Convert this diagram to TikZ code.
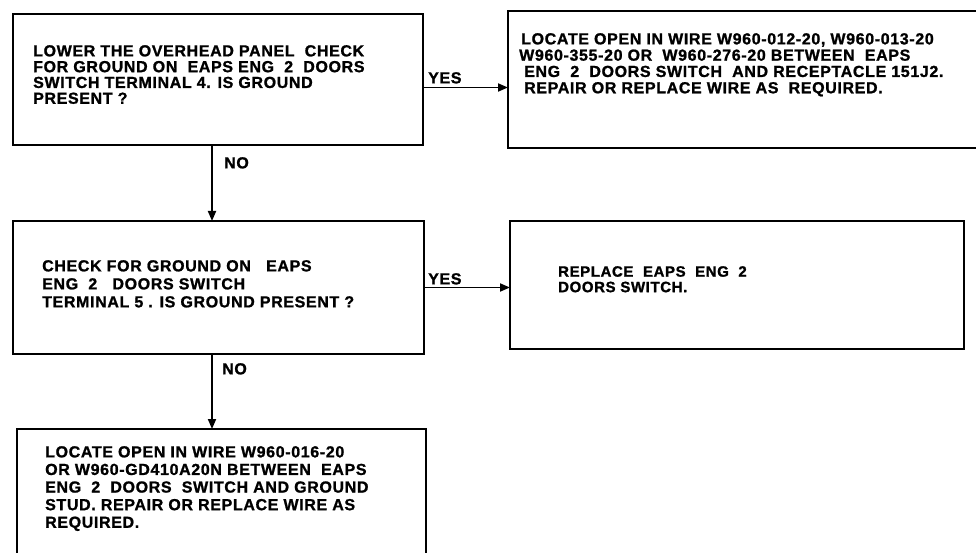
\documentclass[tikz,border=0pt]{standalone}
\usepackage{fontspec}
\setmainfont{Liberation Sans}[LetterSpace=4,BoldFeatures={FakeBold=1.2}]
\usetikzlibrary{arrows.meta}
\tikzset{
  box/.style={draw, line width=1.8pt, inner sep=0pt, outer sep=0pt, anchor=north west},
  txt/.style={anchor=north west, inner sep=0pt, align=left, font=\bfseries\fontsize{16}{#1}\selectfont},
  lbl/.style={anchor=north west, inner sep=0pt, font=\bfseries\fontsize{16}{16}\selectfont},
  arr/.style={line width=1.8pt, -{Triangle[length=10pt,width=8pt]}},
}
\begin{document}
\begin{tikzpicture}[x=1pt,y=-1pt]
\useasboundingbox (0,0) rectangle (976,553);
\clip (0,0) rectangle (976,553);
% boxes
\node[box, minimum width=410pt, minimum height=131pt] (b1) at (13,14) {};
\node[box, minimum width=490pt, minimum height=137pt] (b2) at (508,11) {};
\node[box, minimum width=411pt, minimum height=133pt] (b3) at (13,221) {};
\node[box, minimum width=454pt, minimum height=128pt] (b4) at (510,221) {};
\node[box, minimum width=409pt, minimum height=150pt] (b5) at (17,429) {};
% texts
\node[txt=15.8] (t1) at (33,45) {LOWER THE OVERHEAD PANEL\ \ CHECK\\FOR GROUND ON\ \ EAPS ENG\ \ 2\ \ DOORS\\SWITCH TERMINAL 4. IS GROUND\\PRESENT ?};
\node[txt=16.3] (t2) at (521,33) {LOCATE OPEN IN WIRE W960-012-20, W960-013-20\\\hspace{-2pt}W960-355-20 OR\ \ W960-276-20 BETWEEN\ \ EAPS\\\hspace{3pt}ENG\ \ 2\ \ DOORS SWITCH\ \ AND RECEPTACLE 151J2.\\\hspace{3pt}REPAIR OR REPLACE WIRE AS\ \ REQUIRED.};
\node[txt=18] (t3) at (42,260) {CHECK FOR GROUND ON\ \ \ EAPS\\ENG\ \ 2\ \ \ DOORS SWITCH\\TERMINAL 5 . IS GROUND PRESENT ?};
\node[anchor=north west, inner sep=0pt, align=left, font=\bfseries\fontsize{15}{15.5}\selectfont] (t4) at (558,266) {REPLACE\ \ EAPS\ \ ENG\ \ 2\\DOORS SWITCH.};
\node[txt=17.6] (t5) at (45,446) {LOCATE OPEN IN WIRE W960-016-20\\OR W960-GD410A20N BETWEEN\ \ EAPS\\ENG\ \ 2\ \ DOORS\ \ SWITCH AND GROUND\\STUD. REPAIR OR REPLACE WIRE AS\\REQUIRED.};
% connectors
\draw[arr] ([yshift=-8pt]b1.east) -- ([yshift=-8pt]b1.east -| b2.west);
\draw[arr] ([xshift=199pt]b1.south west) -- ([xshift=199pt]b1.south west |- b3.north);
\draw[arr] (b3.east) -- (b3.east -| b4.west);
\draw[arr] ([xshift=199pt]b3.south west) -- ([xshift=199pt]b3.south west |- b5.north);
% labels
\node[lbl] (y1) at (428,72) {YES};
\node[lbl] (n1) at (224,157) {NO};
\node[lbl] (y2) at (428,273) {YES};
\node[lbl] (n2) at (222,363) {NO};
\end{tikzpicture}
\end{document}
